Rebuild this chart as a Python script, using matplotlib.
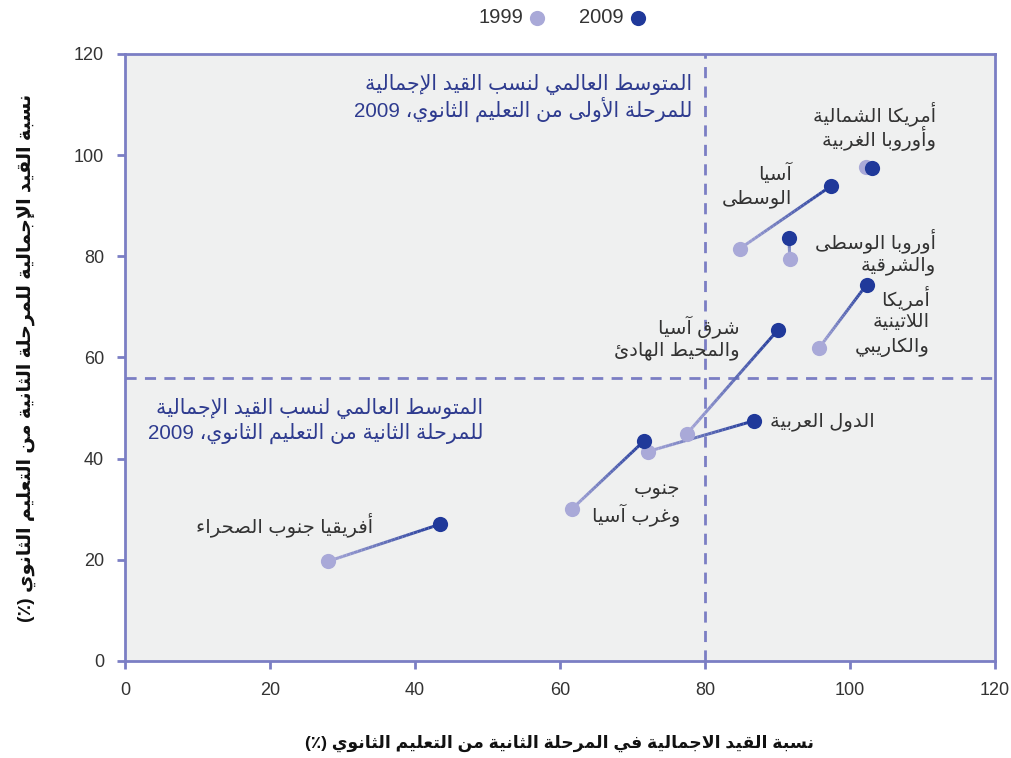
"""Upper vs lower secondary gross enrolment ratios, 1999 and 2009 (Arabic labels)."""

import re

import matplotlib
import matplotlib.pyplot as plt
import numpy as np
from matplotlib.collections import LineCollection
from matplotlib.colors import to_rgb

matplotlib.use("Agg")

plt.rcParams["font.family"] = ["Liberation Sans", "DejaVu Sans"]

# data (x = upper secondary GER, y = lower secondary GER)
regions = [
    "أفريقيا جنوب الصحراء",
    "جنوب\nوغرب آسيا",
    "الدول العربية",
    "شرق آسيا\nوالمحيط الهادئ",
    "أمريكا\nاللاتينية\nوالكاريبي",
    "أوروبا الوسطى\nوالشرقية",
    "آسيا\nالوسطى",
    "أمريكا الشمالية\nوأوروبا الغربية",
]
x_1999 = [28.0, 61.7, 72.1, 77.5, 95.7, 91.7, 84.8, 102.2]
y_1999 = [19.7, 30.1, 41.4, 44.9, 61.8, 79.4, 81.5, 97.7]
x_2009 = [43.4, 71.6, 86.8, 90.1, 102.3, 91.6, 97.4, 103.0]
y_2009 = [27.0, 43.5, 47.5, 65.5, 74.4, 83.7, 93.9, 97.5]
# right edge / first-line centre of each label
label_x = [34.2, 76.6, 103.4, 84.8, 111.0, 111.9, 92.0, 111.9]
label_y = [26.9, 33.8, 47.4, 66.2, 71.8, 83.0, 96.4, 108.2]

world_lower = 80
world_upper = 56
note_lower = "المتوسط العالمي لنسب القيد الإجمالية\nللمرحلة الأولى من التعليم الثانوي، 2009"
note_upper = "المتوسط العالمي لنسب القيد الإجمالية\nللمرحلة الثانية من التعليم الثانوي، 2009"
xlabel = "نسبة القيد الاجمالية في المرحلة الثانية من التعليم الثانوي (٪)"
ylabel = "نسبة القيد الإجمالية للمرحلة الثانية من التعليم الثانوي (٪)"
ticks = [0, 20, 40, 60, 80, 100, 120]

c_light = "#a9a9d8"
c_dark = "#20399a"
c_axis = "#7b7ec4"
c_note = "#2e3b8f"
c_text = "#333333"

# --- minimal arabic shaping (no raqm in matplotlib) ---
FORMS = {
    "ء": (0xFE80, 1), "آ": (0xFE81, 2), "أ": (0xFE83, 2), "ؤ": (0xFE85, 2),
    "إ": (0xFE87, 2), "ئ": (0xFE89, 4), "ا": (0xFE8D, 2), "ب": (0xFE8F, 4),
    "ة": (0xFE93, 2), "ت": (0xFE95, 4), "ث": (0xFE99, 4), "ج": (0xFE9D, 4),
    "ح": (0xFEA1, 4), "خ": (0xFEA5, 4), "د": (0xFEA9, 2), "ذ": (0xFEAB, 2),
    "ر": (0xFEAD, 2), "ز": (0xFEAF, 2), "س": (0xFEB1, 4), "ش": (0xFEB5, 4),
    "ص": (0xFEB9, 4), "ض": (0xFEBD, 4), "ط": (0xFEC1, 4), "ظ": (0xFEC5, 4),
    "ع": (0xFEC9, 4), "غ": (0xFECD, 4), "ف": (0xFED1, 4), "ق": (0xFED5, 4),
    "ك": (0xFED9, 4), "ل": (0xFEDD, 4), "م": (0xFEE1, 4), "ن": (0xFEE5, 4),
    "ه": (0xFEE9, 4), "و": (0xFEED, 2), "ى": (0xFEEF, 2), "ي": (0xFEF1, 4),
}
LAM_ALEF = {"آ": 0xFEF5, "أ": 0xFEF7, "إ": 0xFEF9, "ا": 0xFEFB}
MIRROR = {"(": ")", ")": "("}


def _shape_line(s):
    out = []
    i = 0
    n = len(s)

    def joins_fwd(ch):
        return ch in FORMS and FORMS[ch][1] == 4

    while i < n:
        ch = s[i]
        if ch not in FORMS:
            out.append(ch)
            i += 1
            continue
        prev = s[i - 1] if i > 0 else ""
        jp = joins_fwd(prev)
        if ch == "ل" and i + 1 < n and s[i + 1] in LAM_ALEF:
            out.append(chr(LAM_ALEF[s[i + 1]] + (1 if jp else 0)))
            i += 2
            continue
        base, k = FORMS[ch]
        nxt = s[i + 1] if i + 1 < n else ""
        jn = k == 4 and nxt in FORMS
        if k == 1:
            form = 0
        elif jp and jn:
            form = 3
        elif jp:
            form = 1
        elif jn:
            form = 2
        else:
            form = 0
        out.append(chr(base + form))
        i += 1
    shaped = "".join(out)
    runs = re.findall(r"[0-9A-Za-z.]+|[^0-9A-Za-z.]+", shaped)
    vis = []
    for r in reversed(runs):
        if re.match(r"[0-9A-Za-z.]", r):
            vis.append(r)
        else:
            vis.append("".join(MIRROR.get(c, c) for c in reversed(r)))
    return "".join(vis)


def ar(s):
    return "\n".join(_shape_line(line) for line in s.split("\n"))


def rtl_block(ax, x, y, text, step=18, **kw):
    # one annotate per line so the line pitch is fixed (points)
    for k, line in enumerate(text.split("\n")):
        ax.annotate(ar(line), (x, y), xytext=(0, -step * k),
                    textcoords="offset points", ha="right", va="center", **kw)


fig = plt.figure(figsize=(10.11, 7.58), dpi=100)
ax = fig.add_axes([0.1236, 0.128, 0.8605, 0.8008])
ax.set_facecolor("#eff0f0")

ax.axvline(world_lower, color=c_axis, lw=2, ls=(0, (4, 3)), zorder=1)
ax.axhline(world_upper, color=c_axis, lw=2, ls=(0, (4, 3)), zorder=1)

# gradient connectors, light (1999) -> dark (2009)
cl = np.array(to_rgb(c_light))
cd = np.array(to_rgb(c_dark))
steps = 30
for xa, ya, xb, yb in zip(x_1999, y_1999, x_2009, y_2009):
    t = np.linspace(0, 1, steps + 1)
    px = xa + (xb - xa) * t
    py = ya + (yb - ya) * t
    segs = [[(px[j], py[j]), (px[j + 1], py[j + 1])] for j in range(steps)]
    cols = [cl + (cd - cl) * (j + 0.5) / steps for j in range(steps)]
    ax.add_collection(LineCollection(segs, colors=cols, linewidths=2.2, zorder=2))

ax.scatter(x_1999, y_1999, s=120, color=c_light, zorder=3, linewidths=0, label="1999")
ax.scatter(x_2009, y_2009, s=120, color=c_dark, zorder=4, linewidths=0, label="2009")

for name, lx, ly in zip(regions, label_x, label_y):
    rtl_block(ax, lx, ly, name, fontsize=14, color=c_text, zorder=5)

rtl_block(ax, 78.2, 113.9, note_lower, fontsize=14.8, color=c_note)
rtl_block(ax, 49.4, 50.0, note_upper, fontsize=14.8, color=c_note)

ax.set_xlim(0, 120)
ax.set_ylim(0, 120)
ax.set_xticks(ticks)
ax.set_yticks(ticks)
ax.tick_params(direction="out", length=6, width=2, color=c_axis,
               labelcolor=c_text, labelsize=13, pad=9)
for sp in ax.spines.values():
    sp.set_color(c_axis)
    sp.set_linewidth(2)

ax.set_xlabel(ar(xlabel), fontsize=12.4, fontweight="bold", color="#111111", labelpad=26)
ax.set_ylabel(ar(ylabel), fontsize=13.8, fontweight="bold", color="#111111", labelpad=27)

fig.legend(loc="upper center", bbox_to_anchor=(0.557, 1.013), ncol=2,
           frameon=False, markerfirst=False, fontsize=14.5, handletextpad=0.2,
           columnspacing=1.6, labelcolor=c_text, handlelength=1.0)

fig.savefig("out.png", dpi=100)
